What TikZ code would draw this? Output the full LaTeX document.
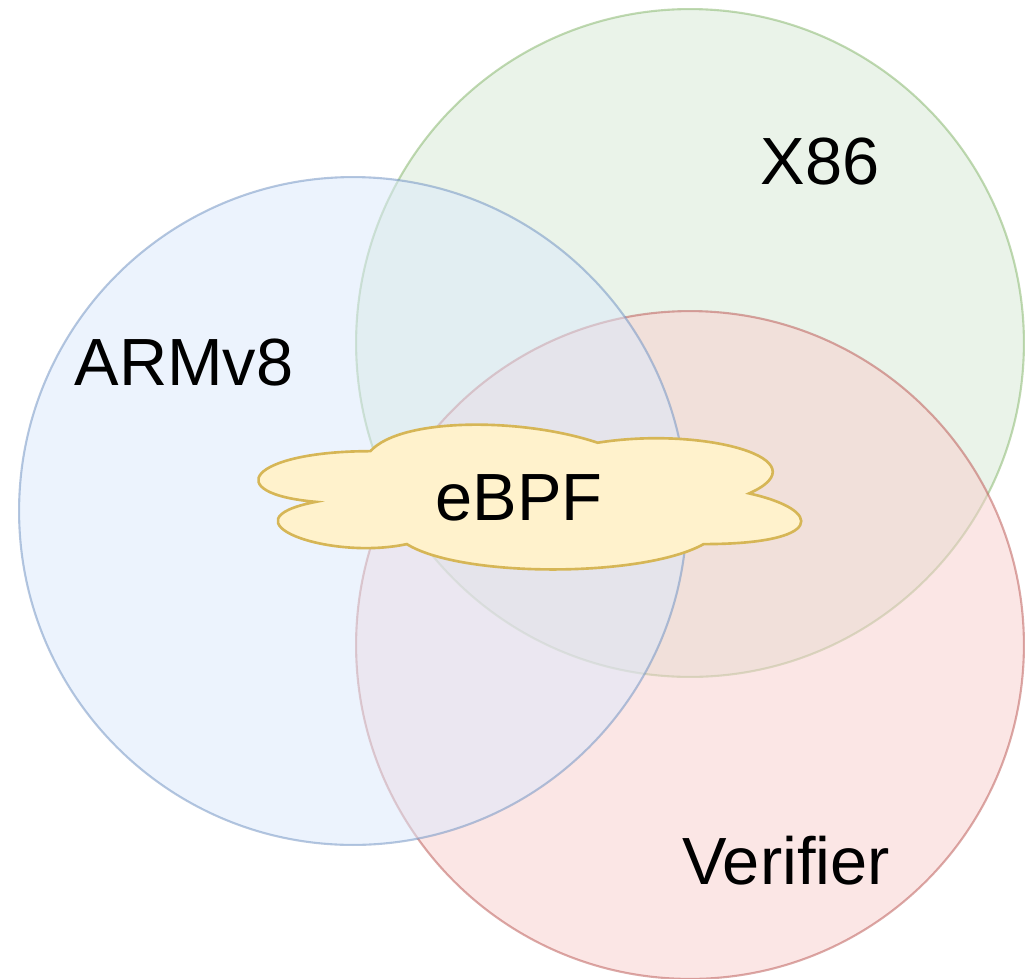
\documentclass[tikz,border=0pt]{standalone}
\usepackage{fontspec}
\setmainfont{Liberation Sans}

\definecolor{armfill}{HTML}{DAE8FC}
\definecolor{armline}{HTML}{6C8EBF}
\definecolor{x86fill}{HTML}{D5E8D4}
\definecolor{x86line}{HTML}{82B366}
\definecolor{verfill}{HTML}{F8CECC}
\definecolor{verline}{HTML}{B85450}
\definecolor{cloudfill}{HTML}{FFF2CC}
\definecolor{cloudline}{HTML}{D6B656}

\begin{document}
\begin{tikzpicture}[x=0.02cm, y=-0.02cm]
    % Set circle dimensions
    \pgfmathsetmacro{\circlesize}{13.36}
    \tikzset{
        setcircle/.style={draw, circle, minimum size=\circlesize cm, line width=1.2pt,
            fill opacity=0.5, draw opacity=0.5},
        setlabel/.style={font=\fontsize{38}{45}\selectfont, anchor=base},
        cloudshape/.style={draw=cloudline, fill=cloudfill, line width=1.5pt},
    }

    \useasboundingbox (0,0) rectangle (1035,978);

    % Draw the three sets
    \node[setcircle, draw=x86line, fill=x86fill] at (690,343) (x86) {};
    \node[setcircle, draw=verline, fill=verfill] at (690,645) (verifier) {};
    \node[setcircle, draw=armline, fill=armfill] at (353,511) (armv8) {};

    % Set labels
    \node[setlabel] at (820,184) (x86label) {X86};
    \node[setlabel] at (184,385) (armlabel) {ARMv8};
    \node[setlabel] at (786,884) (verlabel) {Verifier};

    % Draw the cloud in the middle
    \begin{scope}[shift={(4.38cm,-8.18cm)}, x=12.12cm, y=-3.38cm]
        \draw[cloudshape] (0.25,0.25) .. controls (0.05,0.25) and (0,0.5) .. (0.16,0.55)
            .. controls (0,0.66) and (0.18,0.9) .. (0.31,0.8)
            .. controls (0.4,1) and (0.7,1) .. (0.8,0.8)
            .. controls (1,0.8) and (1,0.6) .. (0.875,0.5)
            .. controls (1,0.3) and (0.8,0.1) .. (0.625,0.2)
            .. controls (0.5,0.05) and (0.3,0.05) .. (0.25,0.25) -- cycle;
    \end{scope}
    \node[setlabel] at (519,520) (ebpf) {eBPF};
\end{tikzpicture}
\end{document}
